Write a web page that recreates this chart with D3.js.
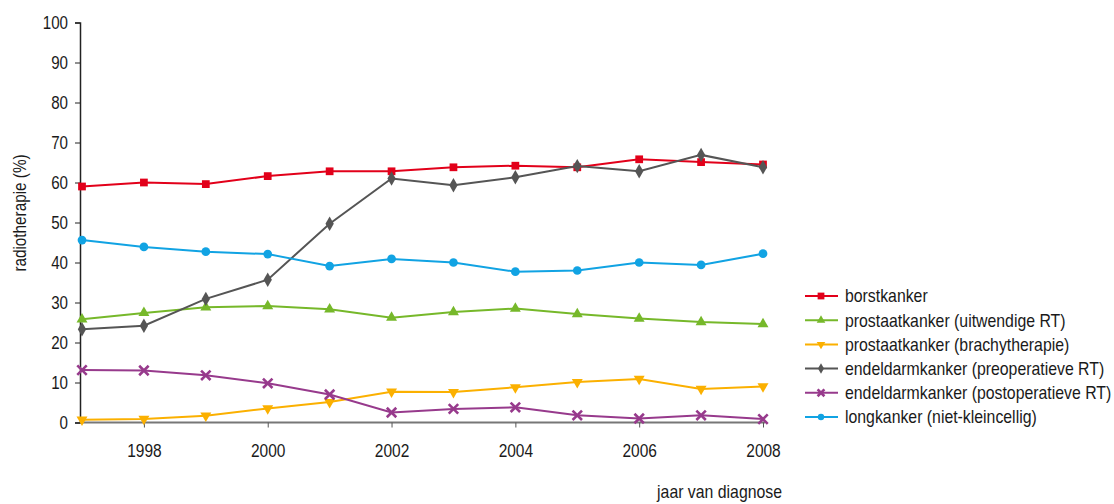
<!DOCTYPE html>
<html><head><meta charset="utf-8">
<script src="https://cdn.jsdelivr.net/npm/d3@7"></script>
<style>
body{margin:0;background:#fff;}
text{font-family:"Liberation Sans","Arial",sans-serif;fill:#1a1a1a;}
</style></head><body>
<svg id="c" width="1114" height="504"></svg>
<script>
const years = [1997,1998,1999,2000,2001,2002,2003,2004,2005,2006,2007,2008];
const seriesNames = ["borstkanker","prostaatkanker (uitwendige RT)","prostaatkanker (brachytherapie)","endeldarmkanker (preoperatieve RT)","endeldarmkanker (postoperatieve RT)","longkanker (niet-kleincellig)"];
const borst = [59.0,60.0,59.6,61.6,62.8,62.8,63.8,64.2,63.8,65.8,65.1,64.5];
const prostaatUit = [25.8,27.4,28.8,29.1,28.3,26.2,27.6,28.5,27.1,26.0,25.1,24.6];
const prostaatBrachy = [0.7,0.9,1.7,3.5,5.1,7.7,7.6,8.8,10.1,10.9,8.4,9.0];
const endelPre = [23.3,24.2,30.9,35.7,49.7,61.0,59.3,61.3,64.1,62.8,66.9,63.8];
const endelPost = [13.1,13.0,11.8,9.8,7.0,2.5,3.4,3.8,1.8,1.0,1.8,0.85];
const long = [45.6,43.9,42.7,42.1,39.1,40.9,40.0,37.7,38.0,40.0,39.4,42.2];
const yTicks = [0,10,20,30,40,50,60,70,80,90,100];
const xTicks = [1998,2000,2002,2004,2006,2008];
const colors = ["#e2001a","#76b82a","#fbb000","#555555","#973a8c","#11a3e3"];
const symbols = ["square","triangle","triangleDown","diamond","cross","circle"];
const allValues = [borst,prostaatUit,prostaatBrachy,endelPre,endelPost,long];

const svg = d3.select("#c");
const x = d3.scaleLinear().domain([1997,2008]).range([82,763]);
const y = d3.scaleLinear().domain([0,100]).range([422.5,22.5]);

function condense(sel, f){
  sel.each(function(){
    const w = this.getComputedTextLength();
    d3.select(this).attr("textLength", w*f).attr("lengthAdjust","spacingAndGlyphs");
  });
}

// y axis
const ya = svg.append("g").attr("transform","translate(80,0)")
  .call(d3.axisLeft(y).tickValues(yTicks).tickSize(5).tickPadding(7));
ya.attr("font-family",null).attr("font-size",null);
ya.select(".domain").attr("stroke","#222").attr("stroke-width",1.5);
ya.selectAll(".tick line").attr("stroke","#222");
ya.selectAll("text").style("font-size","18px").attr("fill","#1a1a1a");
condense(ya.selectAll("text"),0.84);

// x axis
const xa = svg.append("g").attr("transform","translate(0,422.5)")
  .call(d3.axisBottom(x).tickValues(xTicks).tickFormat(d3.format("d")).tickSize(5).tickPadding(17).tickSizeOuter(0));
xa.attr("font-family",null).attr("font-size",null);
xa.select(".domain").attr("stroke","#777").attr("stroke-width",2).attr("d","M80,0H765");
xa.selectAll(".tick line").attr("stroke","#555");
xa.selectAll("text").style("font-size","18px").attr("fill","#1a1a1a");
condense(xa.selectAll("text"),0.86);

// titles
svg.append("text").attr("transform","translate(26,213) rotate(-90) scale(0.85,1)").attr("text-anchor","middle")
  .style("font-size","18px").text("radiotherapie (%)");
svg.append("text").attr("transform","translate(782,498) scale(0.88,1)").attr("text-anchor","end")
  .style("font-size","18px").text("jaar van diagnose");

function symPath(kind, size){
  if(kind==="square") return d3.symbol(d3.symbolSquare, size)();
  if(kind==="triangle") return d3.symbol(d3.symbolTriangle, size)();
  if(kind==="triangleDown") return d3.symbol(d3.symbolTriangle, size)();
  if(kind==="diamond") return d3.symbol(d3.symbolDiamond, size)();
  if(kind==="cross") return d3.symbol(d3.symbolTimes, size)();
  return d3.symbol(d3.symbolCircle, size)();
}
function drawMarker(g, kind, color, cx, cy, size){
  const p = g.append("path").attr("d", symPath(kind,size))
    .attr("transform", `translate(${cx},${cy})` + (kind==="triangleDown"?" rotate(180)":""));
  if(kind==="cross") p.attr("fill","none").attr("stroke",color).attr("stroke-width",2.6);
  else p.attr("fill",color);
}
const sizes = [60,52,52,60,60,60];

const line = d3.line().x((d,i)=>x(years[i])).y(d=>y(d));
allValues.forEach((vals,k)=>{
  const g = svg.append("g");
  g.append("path").datum(vals).attr("d",line).attr("fill","none")
    .attr("stroke",colors[k]).attr("stroke-width",2);
  vals.forEach((v,i)=>drawMarker(g,symbols[k],colors[k],x(years[i]),y(v),sizes[k]));
});

// legend
const lg = svg.append("g");
seriesNames.forEach((n,k)=>{
  const yy = 296 + k*24.2;
  lg.append("line").attr("x1",805).attr("x2",838).attr("y1",yy).attr("y2",yy)
    .attr("stroke",colors[k]).attr("stroke-width",2);
  drawMarker(lg,symbols[k],colors[k],821,yy,k===0?46:32);
  lg.append("text").attr("transform",`translate(845,${yy}) scale(0.88,1)`).attr("dy","0.36em")
    .style("font-size","18px").text(n);
});
</script></body></html>
